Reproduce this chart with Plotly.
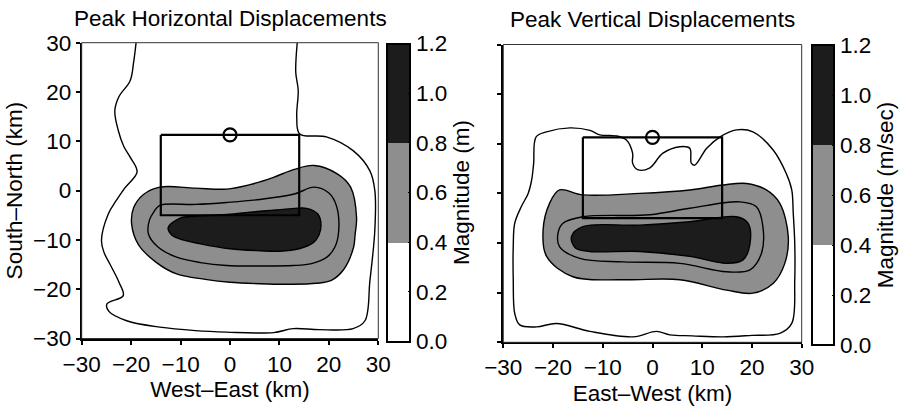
import plotly.graph_objects as go

# ---------------- data (km) ----------------
# Peak horizontal displacements: contour lines (level 0.2, 0.4, 0.6, 0.8 m)
h_c02_x = [-19.0, -19.5, -20.2, -22.5, -23.3, -22.6, -21.5, -20.2, -18.8, -21.3, -23.0, -24.6, -26.0, -25.5,
           -24.3, -22.5, -21.6, -24.9, -24.5, -20.9, -14.2, -7.0, -0.7, 8.8, 12.8, 18.0, 24.9, 27.3, 28.3,
           29.3, 29.3, 28.3, 24.9, 19.5, 14.1, 13.5, 13.8, 13.3, 13.6]
h_c02_y = [30.0, 26.0, 22.3, 19.0, 16.2, 12.2, 9.0, 6.8, 3.8, 0.5, -2.0, -4.7, -10.1, -12.5,
           -14.9, -18.5, -21.3, -23.0, -24.5, -26.4, -27.7, -28.4, -28.7, -28.8, -28.0, -28.2, -28.0, -26.4, -18.3,
           -8.0, 0.0, 4.0, 8.1, 10.9, 11.5, 15.0, 20.3, 24.0, 30.0]

h_c04_x = [-14.2, -7.0, -0.7, 4.0, 8.8, 13.0, 17.0, 21.7, 24.4, 25.6, 25.3, 25.0, 23.0, 20.5, 17.5, 12.0,
           6.1, 0.0, -5.0, -10.8, -15.0, -18.5, -19.9, -19.5, -17.5, -14.2]
h_c04_y = [0.7, 0.5, 0.3, 1.2, 2.7, 4.3, 5.1, 3.4, 0.7, -5.4, -9.0, -11.5, -16.0, -18.2, -18.8, -19.0,
           -18.9, -18.6, -18.0, -16.9, -14.5, -11.0, -6.8, -3.5, -0.8, 0.7]

h_c06_x = [-14.2, -7.0, -0.7, 6.0, 13.0, 17.0, 20.0, 21.5, 22.0, 21.2, 19.6, 16.5, 12.8, 6.0, -0.7, -6.0,
           -10.8, -14.5, -16.5, -16.3, -15.4, -14.2]
h_c06_y = [-3.0, -2.8, -2.4, -1.8, -0.7, 0.7, -0.5, -3.0, -8.1, -11.5, -13.5, -14.8, -15.2, -15.3, -15.2, -14.6,
           -13.5, -11.5, -8.8, -6.0, -4.3, -3.0]

h_c08_x = [-12.5, -10.1, -7.2, 0.0, 6.1, 12.0, 15.5, 17.8, 18.4, 18.0, 16.9, 14.0, 10.0, 6.1, 0.0, -6.0,
           -9.5, -11.8, -12.5]
h_c08_y = [-7.5, -5.6, -5.2, -4.8, -4.2, -3.7, -3.6, -4.8, -6.8, -9.0, -10.5, -11.8, -12.3, -12.2, -11.8, -10.8,
           -10.0, -9.0, -7.5]

# Peak vertical displacements: contour lines (level 0.2, 0.4, 0.6, 0.8 m/sec)
v_c02_x = [-23.4, -21.3, -16.6, -12.6, -10.6, -7.3, -5.3, -4.0, -4.0, -3.0, -0.6, 2.1, 5.5, 7.5, 7.8, 8.5,
           10.9, 13.6, 16.9, 20.2, 24.3, 26.9, 28.0, 28.3, 28.6, 28.6, 28.0, 25.6, 20.0, 14.2, 8.0, 3.5, 0.8,
           -3.9, -12.6, -19.3, -23.3, -26.7, -27.7, -28.0, -28.0, -27.7, -26.4, -25.0, -24.3, -23.9, -23.4]
v_c02_y = [11.4, 12.4, 13.2, 12.7, 11.8, 11.6, 10.8, 8.1, 6.1, 4.8, 5.1, 8.1, 9.4, 9.1, 6.1, 5.7,
           9.1, 11.4, 12.8, 12.4, 8.7, 4.0, 0.7, -4.0, -10.0, -17.4, -26.2, -28.2, -28.6, -28.9, -28.7, -28.5, -27.8,
           -28.9, -27.8, -26.2, -26.9, -26.5, -24.2, -17.4, -10.7, -6.0, -2.7, 0.0, 2.7, 6.0, 11.4]

v_c04_x = [-18.7, -14.0, -2.6, 7.5, 14.2, 18.9, 22.9, 25.6, 27.3, 26.6, 24.3, 20.2, 14.9, 5.5, -5.9, -16.0,
           -21.3, -22.0, -20.7, -18.7]
v_c04_y = [0.7, -0.3, 0.0, 0.7, 1.7, 2.0, 0.7, -2.0, -8.7, -14.1, -18.1, -20.1, -19.5, -17.4, -17.4, -16.8,
           -12.7, -7.4, -2.0, 0.7]

v_c06_x = [-18.0, -14.0, -0.5, 7.5, 17.6, 20.9, 22.2, 21.9, 19.6, 14.9, 5.5, -5.9, -14.6, -18.7, -19.0, -18.0]
v_c06_y = [-6.0, -4.7, -4.3, -3.0, -1.7, -2.7, -6.7, -12.1, -15.4, -15.8, -14.1, -13.8, -13.1, -10.7, -8.0, -6.0]

v_c08_x = [-16.3, -14.0, -2.6, 7.5, 16.9, 19.2, 19.6, 18.2, 14.9, 7.5, -2.6, -12.6, -15.5, -16.3]
v_c08_y = [-8.7, -6.7, -6.4, -5.7, -4.7, -6.0, -10.1, -13.4, -14.1, -12.7, -11.7, -11.7, -11.0, -8.7]

# fault outline and hypocenter
fault_x = [-14.0, 14.0, 14.0, -14.0, -14.0]
fault_y = [11.3, 11.3, -5.0, -5.0, 11.3]
hypo_x = [0.0]
hypo_y = [11.3]

axis_ticks = [-30, -20, -10, 0, 10, 20, 30]
bar_ticks = [0.0, 0.2, 0.4, 0.6, 0.8, 1.0, 1.2]
bar_range = [0.0, 1.2]

# ---------------- styling ----------------
W, H = 905, 407
FONT = "Liberation Sans, Arial, Helvetica, sans-serif"
FS = 22.5
GRAY = "#8e8e8e"
DARK = "#1c1c1c"
LW = 1.4

scale = [[0, "white"], [1 / 3, "white"], [1 / 3, GRAY], [2 / 3, GRAY], [2 / 3, DARK], [1, DARK]]

fig = go.Figure()


def add_panel(xa, ya, c02, c04, c06, c08):
    fig.add_trace(go.Scatter(x=c02[0], y=c02[1], mode="lines", line=dict(color="black", width=LW, shape="spline"),
                             xaxis=xa, yaxis=ya, hoverinfo="skip", showlegend=False))
    fig.add_trace(go.Scatter(x=c04[0], y=c04[1], mode="lines", fill="toself", fillcolor=GRAY,
                             line=dict(color="black", width=LW, shape="spline"),
                             xaxis=xa, yaxis=ya, hoverinfo="skip", showlegend=False))
    fig.add_trace(go.Scatter(x=c06[0], y=c06[1], mode="lines", line=dict(color="black", width=LW, shape="spline"),
                             xaxis=xa, yaxis=ya, hoverinfo="skip", showlegend=False))
    fig.add_trace(go.Scatter(x=c08[0], y=c08[1], mode="lines", fill="toself", fillcolor=DARK,
                             line=dict(color="black", width=LW, shape="spline"),
                             xaxis=xa, yaxis=ya, hoverinfo="skip", showlegend=False))
    fig.add_trace(go.Scatter(x=fault_x, y=fault_y, mode="lines", line=dict(color="black", width=2.2),
                             xaxis=xa, yaxis=ya, hoverinfo="skip", showlegend=False))
    fig.add_trace(go.Scatter(x=hypo_x, y=hypo_y, mode="markers",
                             marker=dict(symbol="circle-open", size=13, color="black", line=dict(width=2.2)),
                             xaxis=xa, yaxis=ya, hoverinfo="skip", showlegend=False))


add_panel("x", "y", (h_c02_x, h_c02_y), (h_c04_x, h_c04_y), (h_c06_x, h_c06_y), (h_c08_x, h_c08_y))
add_panel("x2", "y2", (v_c02_x, v_c02_y), (v_c04_x, v_c04_y), (v_c06_x, v_c06_y), (v_c08_x, v_c08_y))


def colorbar(x_px, top_px, bot_px, thick, title):
    return dict(
        x=x_px / W, xanchor="left", xpad=0, thickness=thick, thicknessmode="pixels",
        y=1 - (top_px + bot_px) / 2 / H, yanchor="middle", ypad=0,
        len=(bot_px - top_px) / H, lenmode="fraction",
        outlinewidth=2, outlinecolor="black",
        tickvals=bar_ticks, ticktext=[f"{v:.1f}" for v in bar_ticks],
        ticks="inside", ticklen=3, tickwidth=1.2, tickcolor="black",
        tickfont=dict(family=FONT, size=FS, color="black"),
        title=dict(text=title, side="right", font=dict(family=FONT, size=FS, color="black")),
    )


# dummy traces carrying the colour bars
fig.add_trace(go.Scatter(x=[0, 0], y=[-8, -8], mode="markers", xaxis="x", yaxis="y", hoverinfo="skip",
                         showlegend=False,
                         marker=dict(size=1, opacity=0, color=bar_range, cmin=0, cmax=1.2, colorscale=scale,
                                     showscale=True, colorbar=colorbar(387, 43.3, 341.7, 23, "Magnitude (m)"))))
fig.add_trace(go.Scatter(x=[0, 0], y=[-8, -8], mode="markers", xaxis="x2", yaxis="y2", hoverinfo="skip",
                         showlegend=False,
                         marker=dict(size=1, opacity=0, color=bar_range, cmin=0, cmax=1.2, colorscale=scale,
                                     showscale=True, colorbar=colorbar(811.7, 45, 345, 22, "Magnitude (m/sec)"))))

axis_common = dict(range=[-30, 30], tickvals=axis_ticks, ticks="outside", ticklen=4, tickwidth=1.5,
                   tickcolor="black", showline=True, linewidth=2, linecolor="black", mirror=False,
                   showgrid=False, zeroline=False, automargin=False,
                   tickfont=dict(family=FONT, size=FS, color="black"))

fig.update_layout(
    width=W, height=H, margin=dict(l=0, r=0, t=0, b=0, autoexpand=False),
    paper_bgcolor="white", plot_bgcolor="white", showlegend=False,
    font=dict(family=FONT, size=FS, color="black"),
    xaxis=dict(axis_common, domain=[81.7 / W, 378.3 / W], anchor="y",
               title=dict(text="West–East (km)", standoff=6, font=dict(family=FONT, size=FS))),
    yaxis=dict(axis_common, domain=[1 - 338.5 / H, 1 - 42.7 / H], anchor="x",
               title=dict(text="South–North (km)", standoff=4, font=dict(family=FONT, size=FS))),
    xaxis2=dict(axis_common, domain=[503.3 / W, 801.7 / W], anchor="y2",
                title=dict(text="East–West (km)", standoff=6, font=dict(family=FONT, size=FS))),
    yaxis2=dict(axis_common, domain=[1 - 342.3 / H, 1 - 44.5 / H], anchor="x2", showticklabels=False),
    shapes=[
        dict(type="rect", xref="x domain", yref="y domain", x0=0, x1=1, y0=0, y1=1,
             line=dict(color="#333", width=1), layer="above"),
        dict(type="rect", xref="x2 domain", yref="y2 domain", x0=0, x1=1, y0=0, y1=1,
             line=dict(color="#333", width=1), layer="above"),
    ],
    annotations=[
        dict(text="Peak Horizontal Displacements", xref="x domain", yref="paper", x=0.5, y=1 - 18 / H,
             xanchor="center", yanchor="middle", showarrow=False, font=dict(family=FONT, size=FS)),
        dict(text="Peak Vertical Displacements", xref="x2 domain", yref="paper", x=0.5, y=1 - 20 / H,
             xanchor="center", yanchor="middle", showarrow=False, font=dict(family=FONT, size=FS)),
    ],
)

fig.write_html("out.html", config={"displayModeBar": False},
               post_script="document.body.style.margin='0';document.body.style.padding='0';")
